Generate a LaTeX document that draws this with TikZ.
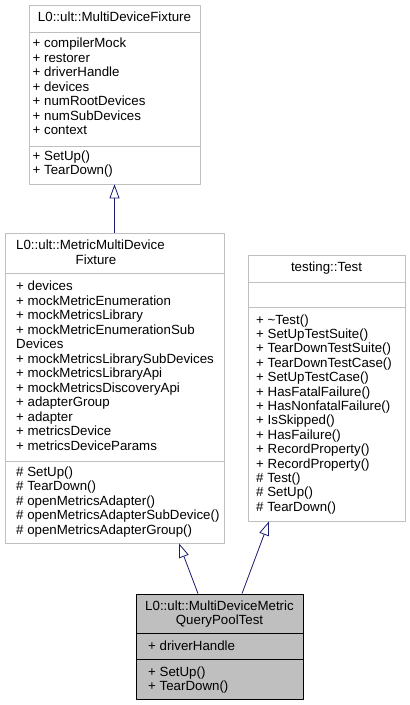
\documentclass[tikz,border=0pt]{standalone}
\usepackage{fontspec}
\setmainfont{Liberation Sans}
\usetikzlibrary{arrows.meta}
\definecolor{edgeblue}{HTML}{191970}
\definecolor{boxgray}{HTML}{BFBFBF}
\newcommand\umlfont{\fontsize{13.3}{14.5}\selectfont}
\begin{document}
\begin{tikzpicture}[x=1pt,y=-1pt,font=\umlfont,line join=round,
  classbox/.style={draw=boxgray,line width=0.8pt,fill=white,inner sep=0,rectangle},
  focusbox/.style={draw=black,line width=0.8pt,fill=boxgray,inner sep=0,rectangle},
  member/.style={anchor=base west,inner sep=0},
  title/.style={anchor=base,inner sep=0},
  inherit/.style={draw=edgeblue,line width=0.8pt,-{Triangle[open,width=10pt,length=14pt]}}]
\useasboundingbox (0,0) rectangle (410,705);
% L0::ult::MultiDeviceFixture
\node[classbox,minimum width=171,minimum height=179] (mdf) at (114.5,94.5) {};
\draw[boxgray,line width=0.8pt] (mdf.west|-0,32)--(mdf.east|-0,32) (mdf.west|-0,146)--(mdf.east|-0,146);
\node[title] (mdfname) at (114.5,21.5) {L0::ult::MultiDeviceFixture};
\foreach \m [count=\i from 0] in {compilerMock,restorer,driverHandle,devices,numRootDevices,numSubDevices,context}
  \node[member] at (32.5,{47.5+14.5*\i}) {+ \m};
\foreach \m [count=\i from 0] in {SetUp(),TearDown()}
  \node[member] at (32.5,{160+14.5*\i}) {+ \m};
% L0::ult::MetricMultiDeviceFixture
\node[classbox,minimum width=219,minimum height=310] (mmdf) at (114.5,388) {};
\draw[boxgray,line width=0.8pt] (mmdf.west|-0,273)--(mmdf.east|-0,273) (mmdf.west|-0,461)--(mmdf.east|-0,461);
\node[member] (mmdfname) at (16,249.5) {L0::ult::MetricMultiDevice};
\node[title] at (96,264.5) {Fixture};
\foreach \m [count=\i from 0] in {+ devices,+ mockMetricEnumeration,+ mockMetricsLibrary,+ mockMetricEnumerationSub,Devices,+ mockMetricsLibrarySubDevices,+ mockMetricsLibraryApi,+ mockMetricsDiscoveryApi,+ adapterGroup,+ adapter,+ metricsDevice,+ metricsDeviceParams}
  \node[member] at (16,{290.5+14.5*\i}) {\m};
\foreach \m [count=\i from 0] in {SetUp(),TearDown(),openMetricsAdapter(),openMetricsAdapterSubDevice(),openMetricsAdapterGroup()}
  \node[member] at (16,{476+14.5*\i}) {\# \m};
% testing::Test
\node[classbox,minimum width=157,minimum height=266] (gtest) at (326.5,388) {};
\draw[boxgray,line width=0.8pt] (gtest.west|-0,282)--(gtest.east|-0,282) (gtest.west|-0,307)--(gtest.east|-0,307);
\node[title] (gtestname) at (326.5,271.5) {testing::Test};
\foreach \m [count=\i from 0] in {+ \textasciitilde Test(),+ SetUpTestSuite(),+ TearDownTestSuite(),+ TearDownTestCase(),+ SetUpTestCase(),+ HasFatalFailure(),+ HasNonfatalFailure(),+ IsSkipped(),+ HasFailure(),+ RecordProperty(),+ RecordProperty(),\# Test(),\# SetUp(),\# TearDown()}
  \node[member] at (256,{324+14.4*\i}) {\m};
% L0::ult::MultiDeviceMetricQueryPoolTest
\node[focusbox,minimum width=167,minimum height=105] (qpt) at (219.5,646.5) {};
\draw[black,line width=0.8pt] (qpt.west|-0,633)--(qpt.east|-0,633) (qpt.west|-0,659)--(qpt.east|-0,659);
\node[title] (qptname) at (219.5,610.5) {L0::ult::MultiDeviceMetric};
\node[title] at (219.5,624.5) {QueryPoolTest};
\node[member] at (148,650.5) {+ driverHandle};
\foreach \m [count=\i from 0] in {SetUp(),TearDown()}
  \node[member] at (148,{676+14.5*\i}) {+ \m};
% inheritance
\draw[inherit] (mmdf.north)--(mdf.south);
\draw[inherit] ([xshift=-21.5pt]qpt.north)--([xshift=64.5pt]mmdf.south);
\draw[inherit] ([xshift=22.5pt]qpt.north)--([xshift=-57.5pt]gtest.south);
\end{tikzpicture}
\end{document}
